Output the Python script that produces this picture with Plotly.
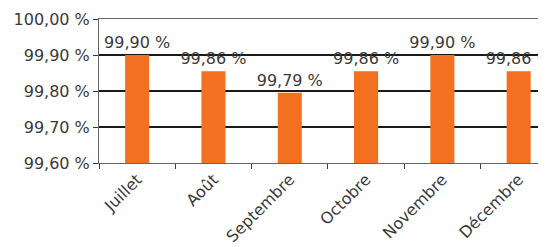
import plotly.graph_objects as go

months = ["Juillet", "Août", "Septembre", "Octobre", "Novembre", "Décembre"]
values = [99.90, 99.855, 99.795, 99.855, 99.90, 99.855]
labels = ["99,90 %", "99,86 %", "99,79 %", "99,86 %", "99,90 %", "99,86 %"]
ytick_vals = [99.6, 99.7, 99.8, 99.9, 100.0]
ytick_text = ["99,60 %", "99,70 %", "99,80 %", "99,90 %", "100,00 %"]

FONT = "DejaVu Sans, sans-serif"

fig = go.Figure(go.Bar(
    x=months, y=values, text=labels, textposition="outside",
    marker=dict(color="#F37021", line=dict(width=0)),
    width=0.315, cliponaxis=False, constraintext="none",
    textfont=dict(size=16, color="#3a3a3a", family=FONT),
))

fig.update_layout(
    width=546, height=239,
    margin=dict(l=91, r=8, t=11, b=84),
    paper_bgcolor="white", plot_bgcolor="white",
    font=dict(family=FONT, size=16, color="#3a3a3a"),
    showlegend=False,
)
fig.update_xaxes(
    range=[-0.5, 5.358], tickson="boundaries", ticks="outside", ticklen=5,
    tickcolor="#3a3a3a", showline=True, linecolor="#666666", linewidth=1,
    mirror=True, tickangle=-45, showgrid=False, tickfont=dict(size=16),
    automargin=False,
)
fig.update_yaxes(
    range=[99.6, 100.0], tickvals=ytick_vals, ticktext=ytick_text,
    ticks="outside", ticklen=5, tickcolor="#3a3a3a", showline=True,
    linecolor="#666666", linewidth=1, showgrid=True, gridcolor="#1a1a1a",
    gridwidth=2, zeroline=False, tickfont=dict(size=16), automargin=False,
)
fig.write_html("out.html", config={"displayModeBar": False})
